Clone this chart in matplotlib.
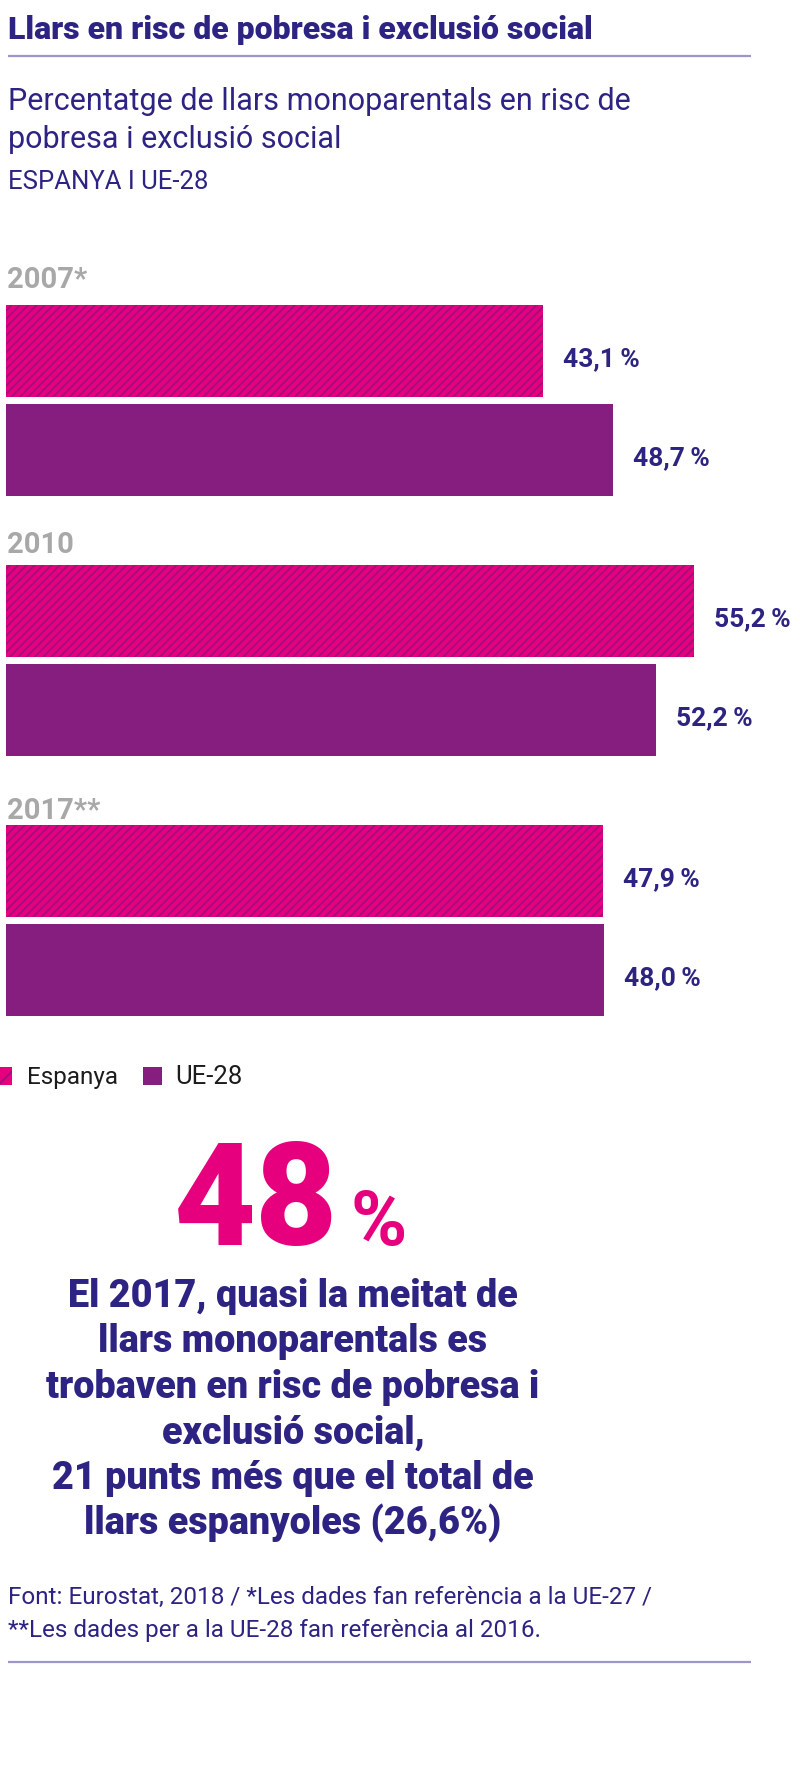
import matplotlib
matplotlib.use("Agg")
import matplotlib.pyplot as plt
import matplotlib.font_manager as fm
from matplotlib.patches import Rectangle

# data
years = ["2007*", "2010", "2017**"]
espanya = [43.1, 55.2, 47.9]
ue28 = [48.7, 52.2, 48.0]
series_names = ["Espanya", "UE-28"]

NAVY = "#2d2382"
PINK = "#e6007e"
PURPLE = "#851e7e"
HATCH = "#a10e80"
GREY = "#a8a8a8"
RULE = "#9d97c9"

names = {f.name for f in fm.fontManager.ttflist}
SANS = "Roboto" if "Roboto" in names else "DejaVu Sans"
FAM = [SANS, "DejaVu Sans"]
plt.rcParams["font.family"] = FAM
plt.rcParams["hatch.linewidth"] = 1.3
plt.rcParams["hatch.color"] = HATCH

W, H = 800, 1773
fig = plt.figure(figsize=(W / 100, H / 100), dpi=100)

# layout axes in pixel coordinates
lay = fig.add_axes([0, 0, 1, 1])
lay.set_xlim(0, W)
lay.set_ylim(H, 0)
lay.axis("off")

lay.text(8, 39, "Llars en risc de pobresa i exclusió social", fontsize=23,
         fontweight="black", color=NAVY, va="baseline")
lay.plot([8, 751], [56, 56], color=RULE, lw=1.6, solid_capstyle="butt")
lay.text(8, 110, "Percentatge de llars monoparentals en risc de", fontsize=22,
         color=NAVY, va="baseline")
lay.text(8, 148, "pobresa i exclusió social", fontsize=22,
         color=NAVY, va="baseline")
lay.text(8, 189, "ESPANYA I UE-28", fontsize=18.5, color=NAVY, va="baseline")

# bar axes: 0..63 % over 785 px, 711 px tall starting at y=305
px_per = 12.46
bx0, by0, bh = 6, 305, 711
xmax = 63
ax = fig.add_axes([bx0 / W, 1 - (by0 + bh) / H, xmax * px_per / W, bh / H])
ax.set_xlim(0, xmax)
ax.set_ylim(bh, 0)
ax.axis("off")

pitch, bar_h, inner = 260, 92, 99
pos_es = [bar_h / 2 + pitch * i for i in range(len(years))]
pos_ue = [p + inner for p in pos_es]

ax.barh(pos_es, espanya, height=bar_h, color=PINK, hatch="////",
        edgecolor=HATCH, linewidth=0)
ax.barh(pos_ue, ue28, height=bar_h, color=PURPLE, linewidth=0)

def fmt(v):
    return f"{v:.1f}".replace(".", ",") + "\u2009%"

for vals, pos in ((espanya, pos_es), (ue28, pos_ue)):
    for v, p in zip(vals, pos):
        ax.annotate(fmt(v), xy=(v, p), xytext=(20, -8),
                    textcoords="offset pixels", ha="left", va="center",
                    fontsize=19, fontweight="bold", color=NAVY)

year_base = [288, 553, 819]
for y, b in zip(years, year_base):
    lay.text(7, b, y, fontsize=21, fontweight="bold", color=GREY,
             va="baseline")

# legend
lay.add_patch(Rectangle((-6, 1067), 18, 18, facecolor=PINK, hatch="//",
                        edgecolor=HATCH, linewidth=0))
lay.text(27, 1084, series_names[0], fontsize=17.5, color="#1c1c1c",
         va="baseline")
lay.add_patch(Rectangle((143, 1067), 19, 18, facecolor=PURPLE, linewidth=0))
lay.text(175, 1084, series_names[1], fontsize=18.5, color="#1c1c1c",
         va="baseline")

# highlight
lay.text(338, 1245, "48", fontsize=102, fontweight="black", color=PINK,
         ha="right", va="baseline")
lay.text(350, 1245, "%", fontsize=55, fontweight="bold", color=PINK,
         ha="left", va="baseline")

block = ["El 2017, quasi la meitat de",
         "llars monoparentals es",
         "trobaven en risc de pobresa i",
         "exclusió social,",
         "21 punts més que el total de",
         "llars espanyoles (26,6%)"]
for k, line in enumerate(block):
    lay.text(293, 1307 + 45.4 * k, line, fontsize=27.2, fontweight="black",
             color=NAVY, ha="center", va="baseline")

lay.text(8, 1604, "Font: Eurostat, 2018 / *Les dades fan referència a la UE-27 /",
         fontsize=17.5, color=NAVY, va="baseline")
lay.text(8, 1637, "**Les dades per a la UE-28 fan referència al 2016.",
         fontsize=17.5, color=NAVY, va="baseline")
lay.plot([8, 751], [1662, 1662], color=RULE, lw=1.6, solid_capstyle="butt")

fig.savefig("out.png", dpi=100, facecolor="white")
